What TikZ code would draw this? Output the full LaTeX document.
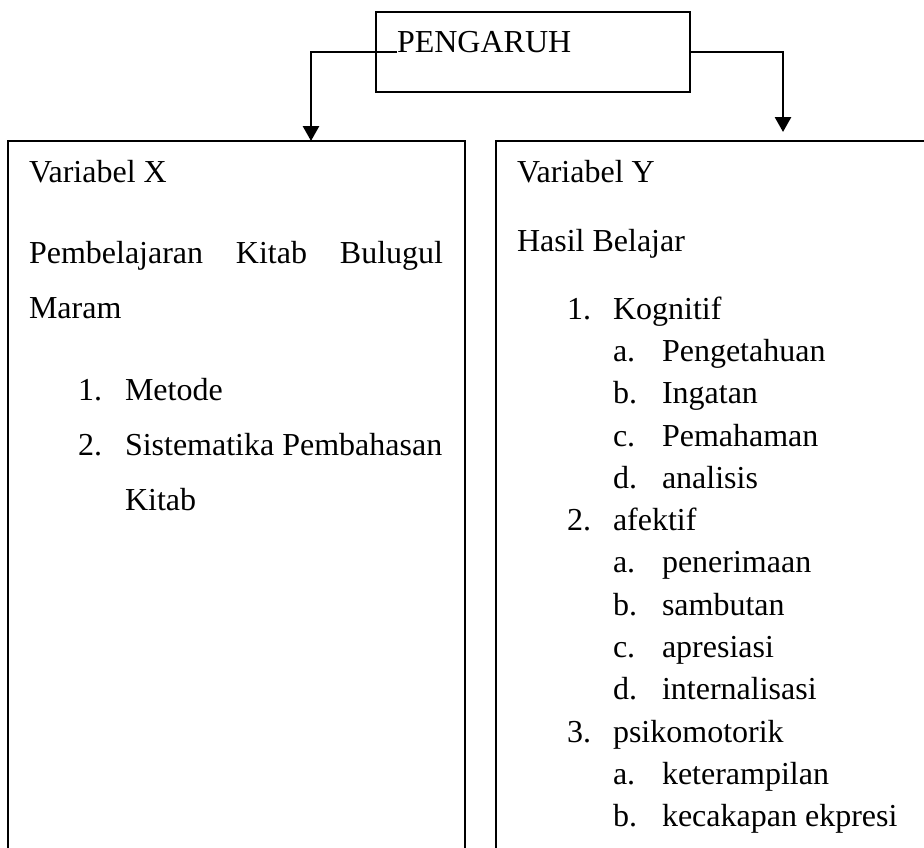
\documentclass[tikz,border=0pt]{standalone}
\usepackage{fontspec}
\setmainfont{Liberation Serif}
\usetikzlibrary{arrows.meta}
\newcommand{\vartxt}{\fontsize{16}{19}\selectfont}

\begin{document}
\begin{tikzpicture}[x=0.5pt, y=-0.5pt, >={Triangle[length=7.5pt,width=8pt]},
  every node/.style={font=\vartxt, inner sep=0pt, outer sep=0pt}]
  \tikzstyle{box}=[draw, line width=0.9pt, anchor=north west]
  \tikzstyle{conn}=[->, line width=1.4pt]
  \tikzstyle{txt}=[anchor=base west]
  \useasboundingbox (0,0) rectangle (924,847);
  \clip (0,0) rectangle (924,847);
  % kotak atas
  \node[box, minimum width=157pt, minimum height=40pt] (pengaruh) at (376,12) {};
  \node[txt] (pengaruhtxt) at (397,52) {PENGARUH};
  % kotak variabel
  \node[box, minimum width=228.5pt, minimum height=400pt] (vx) at (8,141) {};
  \node[box, minimum width=230pt, minimum height=400pt] (vy) at (496,141) {};
  \coordinate (ltip) at (311,141);
  \coordinate (rtip) at (783,132);
  \draw[conn] (pengaruhtxt.base west) -| (ltip);
  \draw[conn] (pengaruh.east) -| (rtip);
  % variabel X
  \node[txt] (xjudul) at (29,182) {Variabel X};
  \node[txt] (xisi) at (29,263) {\hbox to 207pt{Pembelajaran\hfill Kitab\hfill Bulugul}};
  \node[txt] (xisi2) at (29,318) {Maram};
  \node[txt] (xn1) at (78,400) {1.};
  \node[txt] (xt1) at (125,400) {Metode};
  \node[txt] (xn2) at (78,455) {2.};
  \node[txt] (xt2) at (125,455) {Sistematika Pembahasan};
  \node[txt] (xt3) at (125,510) {Kitab};
  % variabel Y
  \node[txt] (yjudul) at (517,182) {Variabel Y};
  \node[txt] (yisi) at (517,251) {Hasil Belajar};
  \foreach \lx/\lbl/\tx/\txt [count=\k from 0] in {
      567/1./613/Kognitif, 613/a./662/Pengetahuan, 613/b./662/Ingatan,
      613/c./662/Pemahaman, 613/d./662/analisis, 567/2./613/afektif,
      613/a./662/penerimaan, 613/b./662/sambutan, 613/c./662/apresiasi,
      613/d./662/internalisasi, 567/3./613/psikomotorik,
      613/a./662/keterampilan, 613/b./662/kecakapan ekpresi}{
    \node[txt] (yl\k) at (\lx,319+42.33*\k) {\lbl};
    \node[txt] (yt\k) at (\tx,319+42.33*\k) {\txt};
  }
\end{tikzpicture}
\end{document}
